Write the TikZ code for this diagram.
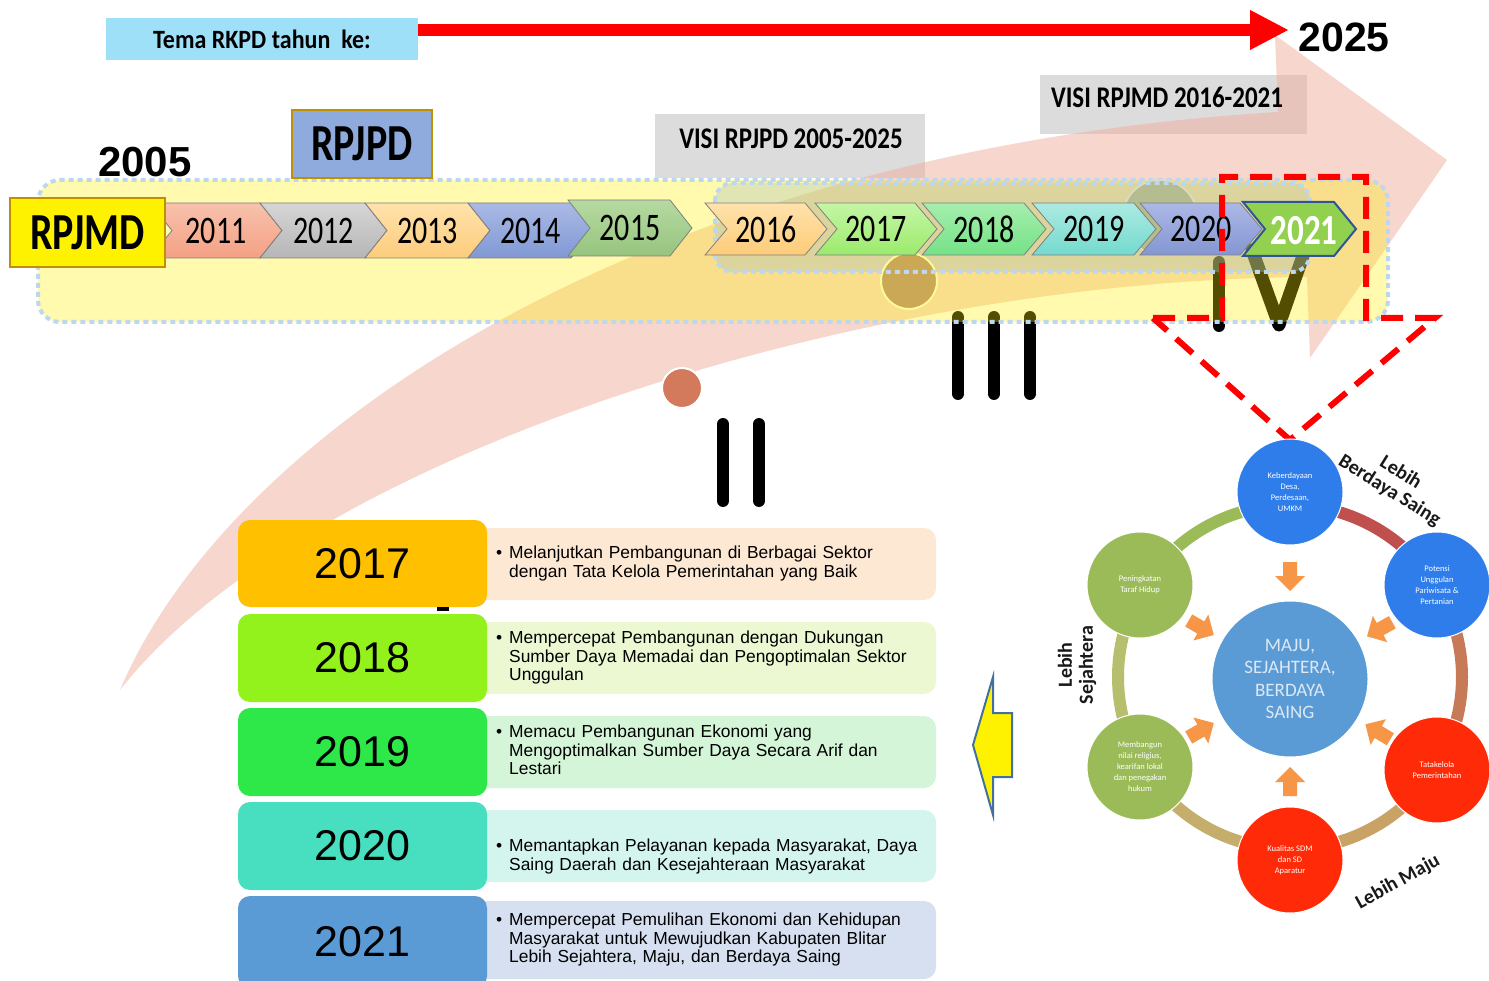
\documentclass[tikz,border=0pt]{standalone}
\usepackage{fontspec}
\usepackage{graphicx}
\setmainfont{Liberation Sans}
\newfontfamily\calib{Carlito}
\usetikzlibrary{arrows.meta}
\newcommand\fsz[2]{\fontsize{#1}{#2}\selectfont}
\newcommand\tall[2][1.3]{\scalebox{1}[#1]{#2}}
\definecolor{skyb}{HTML}{9EE0F8}
\definecolor{graybox}{HTML}{DCDCDC}
\definecolor{pinkA}{HTML}{F0AE9C}
\definecolor{dotblue}{HTML}{BDD7EE}
\definecolor{innerf}{HTML}{A8C0C0}
\definecolor{goldb}{HTML}{BF9000}
\definecolor{rpjpdf}{HTML}{8FAADC}
\definecolor{chevline}{HTML}{7F7F7F}
\definecolor{orarr}{HTML}{F79646}
\definecolor{tanA}{HTML}{B5BC90}
\definecolor{tanB}{HTML}{CBA856}
\definecolor{salm}{HTML}{D47A5C}
\definecolor{navyb}{HTML}{2F5597}
\definecolor{g21}{HTML}{92D050}
\definecolor{y17}{HTML}{FFC000}
\definecolor{y18}{HTML}{94F21C}
\definecolor{y19}{HTML}{2EE84A}
\definecolor{y20}{HTML}{48DEC0}
\definecolor{y21}{HTML}{5B9BD5}
\definecolor{d17}{HTML}{FDE8D4}
\definecolor{d18}{HTML}{EBF8D2}
\definecolor{d19}{HTML}{D4F5D8}
\definecolor{d20}{HTML}{D4F4EE}
\definecolor{d21}{HTML}{D6E0F0}
\definecolor{cblue}{HTML}{2E7DEB}
\definecolor{cred}{HTML}{FF2A08}
\definecolor{cgreen}{HTML}{9BBB59}
\definecolor{cmidc}{HTML}{5B9BD5}
\definecolor{cmidt}{HTML}{DCE8F4}
\definecolor{arcA}{HTML}{C0504D}
\definecolor{arcB}{HTML}{C77A57}
\definecolor{arcC}{HTML}{C9A366}
\definecolor{arcD}{HTML}{C5AE6C}
\definecolor{arcE}{HTML}{B7BF6E}
\definecolor{arcF}{HTML}{9BBB59}
\definecolor{yarrb}{HTML}{41719C}
\tikzset{
  chevtext/.style={font=\calib\fsz{30}{36}, inner sep=0pt},
  vistext/.style={font=\calib\bfseries\fsz{25}{28}, inner sep=0pt},
  bar/.style={line width=12pt, line cap=round, draw=black},
  dotbord/.style={draw=dotblue, line width=4pt, dash pattern=on 5pt off 4pt},
  reddash/.style={draw=red, line width=6pt, dash pattern=on 22pt off 12pt},
  ybox/.style={rounded corners=12pt, inner sep=0pt, minimum width=249pt, font=\fsz{43}{48}},
  desc/.style={anchor=north west, inner sep=0pt, align=left, text width=440pt, font=\fsz{17.4}{18.5}},
  cc/.style={circle, inner sep=0pt, minimum size=106pt, align=center, text=white, draw=white, line width=1pt, font=\calib\fsz{8.5}{11}},
  lbl/.style={font=\calib\bfseries\fsz{20}{21}, align=center, inner sep=0pt, text=black!90},
  ringarc/.style={line width=12pt},
}
\newcommand\chev[8]{%
  \definecolor{chevT}{HTML}{#5}%
  \definecolor{chevB}{HTML}{#6}%
  \path[draw=chevline, line width=0.8pt, top color=chevT, bottom color=chevB]
    (#1,#3) -- ({#2-22},#3) -- (#2,{(#3+#4)/2}) -- ({#2-22},#4) -- (#1,#4) -- ({#1+22},{(#3+#4)/2}) -- cycle;
  \node[chevtext] (#8) at ({(#1+#2)/2},{(#3+#4)/2}) {\tall{#7}};
}
\begin{document}
\begin{tikzpicture}[x=1pt,y=-1pt]
\useasboundingbox (0,0) rectangle (1489,981);
\fill[white] (0,0) rectangle (1489,981);

% grey vision boxes
\fill[graybox] (655,114) rectangle (925,178);
\fill[graybox] (1040,75) rectangle (1307,134);

% big pink curved arrow
\fill[pinkA, fill opacity=0.5] (120,690) .. controls (230,430) and (650,150) .. (1278,112)
  -- (1275,35) -- (1447,160) -- (1310,358) -- (1307,277)
  .. controls (850,280) and (300,460) .. (120,690) -- cycle;

\node[vistext] (visi1) at (791,139) {\tall[1.2]{VISI RPJPD 2005-2025}};
\node[vistext] (visi2) at (1167,97) {\tall[1.2]{VISI RPJMD 2016-2021}};

% roman numerals
\draw[bar] (723,424) -- (723,501);
\draw[bar] (759,424) -- (759,501);
\draw[bar] (958,317) -- (958,394);
\draw[bar] (994,317) -- (994,394);
\draw[bar] (1030,317) -- (1030,394);
\draw[bar] (1219,262) -- (1219,326);
\draw[bar, line width=13pt, line join=round] (1252,250) -- (1279,325) -- (1305,250);

% outer yellow box
\path[fill=yellow, fill opacity=0.32, rounded corners=22pt] (38,180) rectangle (1388,322);
\draw[dotbord, rounded corners=22pt] (38,180) rectangle (1388,322);
% inner box
\path[fill=innerf, fill opacity=0.35, rounded corners=18pt] (715,183) rectangle (1310,272);
\node[circle, fill=tanA, draw=tanA!50!white, line width=1.5pt, minimum size=74pt, inner sep=0pt] (tan1) at (1160,217) {};
\node[circle, fill=tanB, draw=yellow!40!white, line width=2pt, minimum size=56pt, inner sep=0pt] (tan2) at (909,281) {};
\draw[dotbord, rounded corners=18pt] (715,183) rectangle (1310,272);

% chevrons
\chev{150}{282}{203}{258}{F8C2AC}{F4A084}{2011}{c2011}
\chev{260}{387}{203}{258}{D6D6D6}{B6B6B6}{2012}{c2012}
\chev{365}{490}{203}{258}{FFE2AC}{FDCC7C}{2013}{c2013}
\chev{468}{593}{203}{258}{AABAE6}{8098D4}{2014}{c2014}
\chev{568}{692}{200}{256}{B6DAA2}{96C47E}{2015}{c2015}
\chev{705}{827}{203}{255}{FFE2AC}{FDCC78}{2016}{c2016}
\chev{815}{937}{203}{255}{C4F6A6}{9CEA6C}{2017}{c2017}
\chev{922}{1046}{203}{255}{A6EEAE}{74E286}{2018}{c2018}
\chev{1032}{1156}{203}{255}{ACEAE2}{74DACE}{2019}{c2019}
\chev{1140}{1262}{203}{255}{ACB8E6}{8496D2}{2020}{c2020}
\path[draw=navyb, line width=2pt, fill=g21]
  (1243,202) -- (1334,202) -- (1356,229) -- (1334,256) -- (1243,256) -- (1265,229) -- cycle;
\node[chevtext, font=\calib\bfseries\fsz{33}{36}, text=white] (c2021) at (1304,231) {\tall[1.3]{2021}};

% labels top-left
\node[draw=goldb, line width=2.5pt, fill=yellow, minimum width=155pt, minimum height=69pt, inner sep=0pt,
  font=\calib\bfseries\fsz{40}{44}] (rpjmd) at (87.5,232.5) {\tall[1.3]{RPJMD}};
\node[draw=goldb, line width=2.5pt, fill=rpjpdf, minimum width=140pt, minimum height=68pt, inner sep=0pt,
  font=\calib\bfseries\fsz{40}{44}] (rpjpd) at (362,144) {\tall[1.3]{RPJPD}};
\node[font=\bfseries\fsz{42}{46}, inner sep=0pt] (y2005) at (145,162) {2005};

\node[circle, fill=salm, draw=white, line width=2pt, minimum size=40pt, inner sep=0pt] (sal) at (682,388) {};

% red dashed callout
\draw[reddash] (1153,318) -- (1222,318) -- (1222,177) -- (1366,177) -- (1366,318) -- (1435,318) -- (1290,440) -- cycle;

% top theme bar with red arrow
\node[fill=skyb, minimum width=312pt, minimum height=42pt, inner sep=0pt,
  font=\calib\bfseries\fsz{24}{26}] (tema) at (262,39) {\tall[1.1]{Tema RKPD tahun\ \ ke:}};
\node[font=\bfseries\fsz{41}{46}, inner sep=0pt] (y2025) at (1344,37) {2025};
\coordinate (arrS) at (418,30);
\coordinate (arrE) at (1289,30);
\draw[red, line width=12pt, -{Triangle[width=37pt,length=39pt]}] (arrS) -- (arrE);

% table
\fill[d17, rounded corners=12pt] (470,528) rectangle (936,600);
\fill[d18, rounded corners=12pt] (470,622) rectangle (936,694);
\fill[d19, rounded corners=12pt] (470,716) rectangle (936,788);
\fill[d20, rounded corners=12pt] (470,810) rectangle (936,882);
\fill[d21, rounded corners=12pt] (470,901) rectangle (936,979);
\node[ybox, fill=y17, minimum height=87pt] (y17n) at (362.5,563.5) {2017};
\node[ybox, fill=y18, minimum height=88pt] (y18n) at (362.5,658) {2018};
\node[ybox, fill=y19, minimum height=88pt] (y19n) at (362.5,752) {2019};
\node[ybox, fill=y20, minimum height=88pt] (y20n) at (362.5,846) {2020};
\node[ybox, fill=y21, minimum height=92pt] (y21n) at (362.5,942) {2021};
\fill[black] (437,607) rectangle (449,611);
\node[desc] (t17) at (509,546) {\leavevmode\llap{\textbullet\hspace{7pt}}Melanjutkan Pembangunan di Berbagai Sektor\\dengan Tata Kelola Pemerintahan yang Baik};
\node[desc] (t18) at (509,631) {\leavevmode\llap{\textbullet\hspace{7pt}}Mempercepat Pembangunan dengan Dukungan\\Sumber Daya Memadai dan Pengoptimalan Sektor\\Unggulan};
\node[desc] (t19) at (509,725) {\leavevmode\llap{\textbullet\hspace{7pt}}Memacu Pembangunan Ekonomi yang\\Mengoptimalkan Sumber Daya Secara Arif dan\\Lestari};
\node[desc] (t20) at (509,839) {\leavevmode\llap{\textbullet\hspace{7pt}}Memantapkan Pelayanan kepada Masyarakat, Daya\\Saing Daerah dan Kesejahteraan Masyarakat};
\node[desc] (t21) at (509,913) {\leavevmode\llap{\textbullet\hspace{7pt}}Mempercepat Pemulihan Ekonomi dan Kehidupan\\Masyarakat untuk Mewujudkan Kabupaten Blitar\\Lebih Sejahtera, Maju, dan Berdaya Saing};

% yellow left arrow
\draw[fill=yellow, draw=yarrb, line width=2pt, line join=miter]
  (973,745) -- (993,677) -- (993,713) -- (1012,713) -- (1012,777) -- (993,777) -- (993,815) -- cycle;

% circle diagram: ring arcs
\draw[ringarc, arcA] (1290,677) ++(-90:172) arc[start angle=-90, end angle=-30, radius=172];
\draw[ringarc, arcB] (1290,677) ++(-30:172) arc[start angle=-30, end angle=30, radius=172];
\draw[ringarc, arcC] (1290,677) ++(30:172) arc[start angle=30, end angle=90, radius=172];
\draw[ringarc, arcD] (1290,677) ++(90:172) arc[start angle=90, end angle=150, radius=172];
\draw[ringarc, arcE] (1290,677) ++(150:172) arc[start angle=150, end angle=210, radius=172];
\draw[ringarc, arcF] (1290,677) ++(210:172) arc[start angle=210, end angle=270, radius=172];

\node[cc, fill=cblue] (ctop) at (1290,492) {Keberdayaan\\Desa,\\Perdesaan,\\UMKM};
\node[cc, fill=cblue] (cur) at (1437,585) {Potensi\\Unggulan\\Pariwisata \&\\Pertanian};
\node[cc, fill=cred] (clr) at (1437,770) {Tatakelola\\Pemerintahan};
\node[cc, fill=cred] (cbot) at (1290,860) {Kualitas SDM\\dan SD\\Aparatur};
\node[cc, fill=cgreen] (cll) at (1140,767) {Membangun\\nilai religius,\\kearifan lokal\\dan penegakan\\hukum};
\node[cc, fill=cgreen] (cul) at (1140,585) {Peningkatan\\Taraf Hidup};
\node[cc, fill=cmidc, minimum size=156pt, text=cmidt, font=\calib\fsz{19}{22.5}] (cmid) at (1290,679) {MAJU,\\SEJAHTERA,\\BERDAYA\\SAING};

\foreach \a in {90,29,-31,-90,-150,150}{
  \begin{scope}[shift={({1290+103*cos(\a)},{679-103*sin(\a)})}, rotate=\a+180]
    \fill[orarr] (-14,-7) -- (0,-7) -- (0,-15) -- (15,0) -- (0,15) -- (0,7) -- (-14,7) -- cycle;
  \end{scope}
}

\node[lbl, rotate=-32] (lbs) at (1395,482) {Lebih\\Berdaya Saing};
\node[lbl, rotate=90] (lsj) at (1077,665) {Lebih\\Sejahtera};
\node[lbl, rotate=29] (lmj) at (1398,882) {Lebih Maju};
\end{tikzpicture}
\end{document}
